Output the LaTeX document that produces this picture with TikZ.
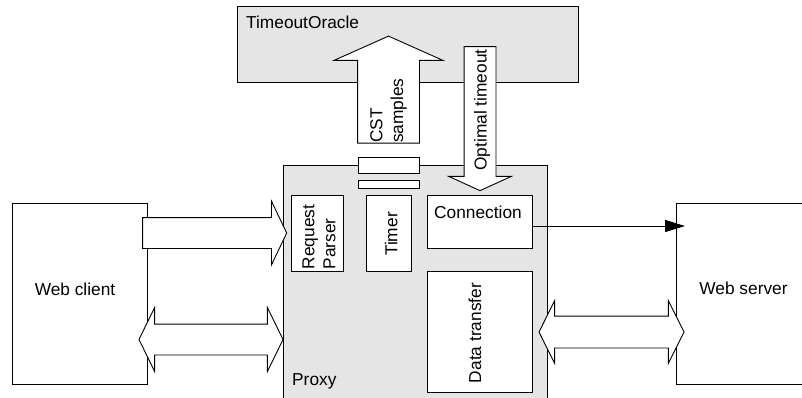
\documentclass[tikz,border=0pt]{standalone}
\usepackage{fontspec}
\setmainfont{Liberation Sans}
\usetikzlibrary{shapes.arrows,arrows.meta}
\definecolor{panel}{HTML}{E5E5E5}
\begin{document}
\begin{tikzpicture}[x=1pt,y=-1pt,
  every node/.style={font=\fontsize{17.3}{20.8}\selectfont, inner sep=0pt},
  box/.style={draw, line width=0.9pt, fill=white},
  panelbox/.style={box, fill=panel},
  txt/.style={inner sep=0pt},
  vtxt/.style={inner sep=0pt, rotate=90},
  fatone/.style={draw, line width=0.9pt, fill=white, single arrow,
    inner xsep=0pt, single arrow head indent=0pt, minimum width=0pt},
  fattwo/.style={draw, line width=0.9pt, fill=white, double arrow,
    inner xsep=0pt, double arrow head indent=0pt, minimum width=0pt},
  thin/.style={line width=0.9pt}
]
\path[use as bounding box] (0,0) rectangle (802,397);
\clip (0,0) rectangle (802,397);

% main components
\node[panelbox, minimum width=341pt, minimum height=76pt] (oracle) at (407.5,44) {};
\node[panelbox, minimum width=264pt, minimum height=245pt] (proxy) at (415,287.5) {};
\node[box, minimum width=135pt, minimum height=181pt] (client) at (79.5,293.5) {};
\node[box, minimum width=154pt, minimum height=181pt] (server) at (753,293.5) {};

% proxy internals
\node[box, minimum width=52pt, minimum height=76pt] (parser) at (317,233) {};
\node[box, minimum width=45pt, minimum height=76pt] (timer) at (388.5,233) {};
\node[box, minimum width=105pt, minimum height=53pt] (conn) at (479.5,221.5) {};
\node[box, minimum width=105pt, minimum height=121pt] (data) at (479.5,331.5) {};
\node[box, minimum width=61pt, minimum height=16pt] (slotA) at (388.5,165) {};
\node[box, minimum width=61pt, minimum height=8pt] (slotB) at (388.5,184) {};

% block arrows
\node[fatone, minimum height=144pt, inner ysep=15pt, single arrow head extend=16.5pt,
      single arrow tip angle=129] (reqflow) at (211,233) {};
\node[fattwo, minimum height=144pt, inner ysep=15pt, double arrow head extend=16.5pt,
      double arrow tip angle=128] (cliflow) at (211,339.5) {};
\node[fattwo, minimum height=145pt, inner ysep=15.5pt, double arrow head extend=15.5pt,
      double arrow tip angle=127] (srvflow) at (611.5,332) {};
\node[fatone, rotate=90, minimum height=107pt, inner ysep=30.5pt, single arrow head extend=23.5pt,
      single arrow tip angle=132] (cstflow) at (388.5,96.5) {};
\node[fatone, rotate=-90, minimum height=144pt, inner ysep=15.5pt, single arrow head extend=15.5pt,
      single arrow tip angle=131] (optflow) at (480,115) {};

% connection to the server
\coordinate (srvin) at (685,226);
\draw[thin, -{Triangle[length=20pt,width=12pt]}] ([yshift=-4.5pt]conn.east) -- (srvin);

% labels
\node[txt, anchor=base west] (oraclelbl) at (246,28.5) {TimeoutOracle};
\node[txt, anchor=base west] (proxylbl) at (292,385) {Proxy};
\node[txt, anchor=base] (connlbl) at (478,218.5) {Connection};
\node[txt, anchor=base] (clientlbl) at (75,295) {Web client};
\node[txt, anchor=base] (serverlbl) at (743.5,294) {Web server};
\node[vtxt, anchor=base] (timerlbl) at (397.3,234) {Timer};
\node[vtxt, anchor=base] (datalbl) at (481,333) {Data transfer};
\node[vtxt, anchor=base] (optlbl) at (486.7,110) {Optimal timeout};
\node[vtxt, anchor=west, align=left] (parserlbl) at (319,269.5) {Request\\Parser};
\node[vtxt, anchor=west, align=left] (cstlbl) at (388.5,143) {CST\\samples};
\end{tikzpicture}
\end{document}
